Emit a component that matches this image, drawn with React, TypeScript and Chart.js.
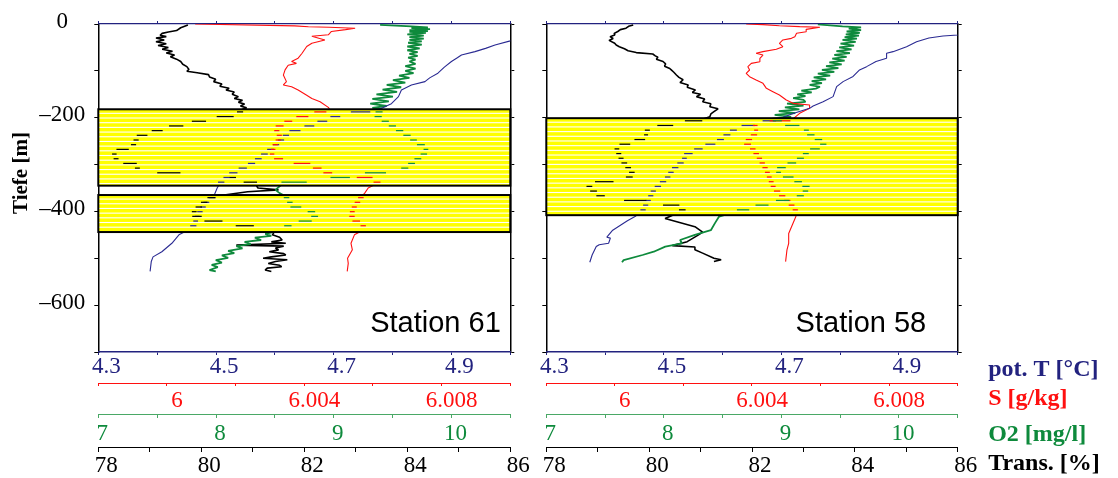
import React, { useEffect, useRef } from 'react';
import { Chart, registerables } from 'chart.js';

Chart.register(...registerables);

// ---------- axis ticks and labels ----------
const DEPTH_TICKS = [-700, -600, -500, -400, -300, -200, -100, 0];
const DEPTH_TICK_LABELS = ['', '–600', '', '–400', '', '–200', '', '0'];
const T_TICKS = [4.3, 4.4, 4.5, 4.6, 4.7, 4.8, 4.9, 5.0];
const T_TICK_LABELS = ['4.3', '', '4.5', '', '4.7', '', '4.9', ''];
const S_TICKS = [5.998, 6.0, 6.002, 6.004, 6.006, 6.008, 6.01];
const S_TICK_LABELS = ['', '6', '', '6.004', '', '6.008', ''];
const O2_TICKS = [7, 7.5, 8, 8.5, 9, 9.5, 10, 10.5];
const O2_TICK_LABELS = ['7', '', '8', '', '9', '', '10', ''];
const TR_TICKS = [78, 79, 80, 81, 82, 83, 84, 85, 86];
const TR_TICK_LABELS = ['78', '', '80', '', '82', '', '84', '', '86'];
const UNIT_LABELS = ['pot. T [°C]', 'S [g/kg]', 'O2 [mg/l]', 'Trans. [%]'];
const DEPTH_TITLE = 'Tiefe [m]';

// ---------- Station 61 ----------
const ST61_T_DEPTH = [-33, -36, -45, -52, -59, -66, -72, -80, -92, -105, -115, -123, -130, -141, -155, -170, -178, -182, -193, -222, -231, -262, -290, -300, -320, -339, -350, -368, -379, -407, -429, -440, -450, -468, -486, -497, -507, -528];
const ST61_T = [5.007, 5.0, 4.974, 4.958, 4.94, 4.917, 4.91, 4.9, 4.888, 4.877, 4.863, 4.855, 4.832, 4.815, 4.81, 4.798, 4.784, 4.776, 4.712, 4.648, 4.624, 4.598, 4.569, 4.557, 4.525, 4.507, 4.502, 4.496, 4.484, 4.469, 4.463, 4.452, 4.437, 4.425, 4.408, 4.393, 4.39, 4.388];

const ST61_S_DEPTH = [0, -4, -6, -7, -9, -12, -16, -23, -26, -34, -41, -48, -63, -73, -80, -84, -88, -98, -109, -123, -130, -134, -141, -152, -159, -166, -178, -182, -203, -222, -241, -262, -281, -290, -300, -310, -320, -322, -330, -339, -350, -361, -368, -379, -389, -407, -418, -429, -438, -450, -468, -482, -500, -511, -528];
const ST61_S = [6.00082, 6.00372, 6.00412, 6.00472, 6.00548, 6.0052, 6.00479, 6.0047, 6.00422, 6.0046, 6.00422, 6.00407, 6.00393, 6.00382, 6.00363, 6.00377, 6.00353, 6.00344, 6.00339, 6.00348, 6.00339, 6.00363, 6.00382, 6.00407, 6.00422, 6.00446, 6.0047, 6.00474, 6.00364, 6.00316, 6.0033, 6.00311, 6.00305, 6.00334, 6.00416, 6.00446, 6.00477, 6.00536, 6.00597, 6.00616, 6.00586, 6.00576, 6.00567, 6.00556, 6.00546, 6.00536, 6.00546, 6.00572, 6.00576, 6.00546, 6.00536, 6.0054, 6.00526, 6.00528, 6.00525];

const ST61_O2_DEPTH = [-2, -5, -7, -9, -11, -13, -15, -17, -19, -22, -25, -28, -31, -34, -37, -40, -44, -48, -52, -56, -60, -64, -68, -72, -76, -80, -85, -90, -95, -100, -105, -110, -115, -120, -125, -130, -135, -140, -145, -150, -155, -160, -165, -170, -175, -179, -182, -193, -222, -241, -252, -262, -272, -281, -300, -310, -320, -330, -339, -354, -361, -368, -389, -398, -407, -418, -429, -439, -448, -452, -456, -461, -465, -470, -474, -479, -484, -489, -494, -499, -504, -509, -514, -519, -525, -528];
const ST61_O2 = [9.394, 9.66, 9.8, 9.66, 9.818, 9.643, 9.8, 9.643, 9.783, 9.625, 9.765, 9.643, 9.765, 9.643, 9.748, 9.632, 9.748, 9.625, 9.73, 9.625, 9.713, 9.643, 9.713, 9.632, 9.695, 9.643, 9.695, 9.608, 9.695, 9.608, 9.678, 9.555, 9.643, 9.503, 9.608, 9.45, 9.573, 9.415, 9.538, 9.363, 9.503, 9.328, 9.468, 9.31, 9.45, 9.328, 9.415, 9.352, 9.527, 9.646, 9.702, 9.776, 9.79, 9.748, 9.646, 9.587, 9.265, 8.974, 8.575, 8.505, 8.54, 8.593, 8.652, 8.796, 8.855, 8.796, 8.607, 8.575, 8.418, 8.47, 8.33, 8.383, 8.243, 8.295, 8.173, 8.225, 8.103, 8.155, 8.05, 8.103, 7.998, 8.05, 7.963, 8.015, 7.945, 7.998];

const ST61_TR_DEPTH = [-2, -8, -14, -17, -20, -24, -27, -30, -34, -38, -42, -46, -50, -54, -58, -62, -66, -70, -75, -80, -86, -91, -97, -101, -104, -108, -113, -118, -123, -128, -133, -137, -141, -145, -150, -155, -159, -163, -167, -171, -175, -179, -182, -193, -203, -213, -222, -231, -240, -262, -272, -281, -291, -300, -310, -320, -322, -330, -339, -350, -354, -358, -368, -376, -398, -407, -418, -429, -440, -450, -455, -461, -465, -468, -472, -474, -478, -482, -486, -490, -493, -497, -500, -503, -507, -511, -515, -518, -521, -525, -528];
const ST61_TR = [79.74, 79.6, 79.52, 79.36, 79.24, 79.2, 79.32, 79.12, 79.28, 79.12, 79.32, 79.16, 79.36, 79.24, 79.44, 79.32, 79.48, 79.4, 79.52, 79.6, 79.64, 79.72, 79.76, 79.72, 79.92, 80.14, 80.16, 80.28, 80.24, 80.4, 80.36, 80.54, 80.48, 80.64, 80.6, 80.72, 80.64, 80.8, 80.72, 80.84, 80.76, 80.88, 80.8, 80.7, 80.14, 79.7, 79.3, 79.03, 78.77, 78.66, 78.3, 78.32, 78.36, 78.73, 78.77, 79.6, 80.56, 80.64, 81.04, 81.1, 81.5, 80.9, 80.23, 80.1, 79.87, 79.84, 80.1, 80.77, 81.44, 81.38, 81.52, 81.57, 81.36, 81.64, 80.68, 81.6, 81.44, 81.5, 81.32, 81.6, 81.64, 81.36, 81.2, 81.67, 81.44, 81.3, 81.52, 81.56, 81.28, 81.24, 81.36];

const ST61_BAND_TOP = [-182, -365];
const ST61_BAND_BOTTOM = [-345, -444];

// ---------- Station 58 ----------
const ST58_T_DEPTH = [-22, -23.5, -25.6, -30, -37.7, -48.4, -59, -62.6, -73, -80, -91, -98, -112, -123, -133.7, -155, -166, -175, -180, -191, -199, -203, -222, -251, -262, -279, -290, -311, -329, -354, -398, -411, -420, -440, -455, -457, -468, -471, -475, -493, -508.5];
const ST58_T = [5.007, 5.0, 4.975, 4.951, 4.93, 4.913, 4.89, 4.879, 4.879, 4.861, 4.845, 4.833, 4.822, 4.805, 4.794, 4.788, 4.771, 4.754, 4.748, 4.72, 4.703, 4.691, 4.623, 4.591, 4.566, 4.537, 4.534, 4.515, 4.505, 4.483, 4.464, 4.451, 4.438, 4.413, 4.403, 4.409, 4.406, 4.39, 4.385, 4.378, 4.374];

const ST58_S_DEPTH = [0, -1.4, -3.6, -5.7, -7, -11.4, -16.4, -19.9, -27, -30.6, -34.1, -41.2, -48.4, -54, -59, -62.6, -66.2, -73.3, -80.4, -84, -91, -98.2, -105.3, -112.4, -119.5, -126.6, -137.3, -144.4, -151.5, -162.2, -169.3, -172.8, -179.9, -190.6, -199.2, -202.7, -213, -222, -232, -253, -262, -283, -311, -340, -350, -379, -397, -411, -447, -468, -482, -507];
const ST58_S = [6.00383, 6.00432, 6.0048, 6.00539, 6.00598, 6.00558, 6.00558, 6.0053, 6.00525, 6.00515, 6.0049, 6.0048, 6.0049, 6.00471, 6.00432, 6.00412, 6.00432, 6.00423, 6.00423, 6.00398, 6.00388, 6.00393, 6.00383, 6.00393, 6.00412, 6.00432, 6.00442, 6.00461, 6.0048, 6.005, 6.0052, 6.00568, 6.00568, 6.00539, 6.00525, 6.0052, 6.00408, 6.00412, 6.00412, 6.00381, 6.00398, 6.00419, 6.00442, 6.00458, 6.00464, 6.00507, 6.00528, 6.00528, 6.00507, 6.00507, 6.00502, 6.00498];

const ST58_O2_DEPTH = [-1, -5, -7, -10, -13, -16, -19, -22, -25, -28, -31, -34, -38, -42, -46, -50, -54, -58, -62, -66, -70, -74, -78, -82, -86, -90, -94, -98, -102, -106, -110, -114, -118, -122, -126, -130, -134, -138, -142, -146, -150, -154, -158, -162, -166, -170, -174, -178, -182, -186, -190, -194, -198, -202, -213, -222, -232, -254, -262, -272, -281, -291, -310, -320, -329, -348, -357, -368, -387, -398, -411, -425, -440, -450, -461, -468, -475, -486, -493, -504, -508.5];
const ST58_O2 = [9.31, 9.52, 9.678, 9.573, 9.678, 9.555, 9.667, 9.548, 9.66, 9.538, 9.643, 9.52, 9.632, 9.503, 9.618, 9.492, 9.597, 9.468, 9.583, 9.45, 9.555, 9.433, 9.538, 9.408, 9.513, 9.38, 9.485, 9.345, 9.45, 9.31, 9.415, 9.275, 9.38, 9.258, 9.345, 9.24, 9.328, 9.293, 9.17, 9.258, 9.135, 9.205, 9.1, 9.188, 9.205, 9.048, 9.188, 9.03, 9.153, 8.978, 9.118, 8.943, 9.083, 8.925, 9.03, 9.205, 9.223, 9.366, 9.331, 9.223, 9.191, 9.135, 8.967, 8.981, 9.093, 9.223, 9.205, 9.156, 8.82, 8.645, 8.47, 8.435, 8.4, 8.264, 8.138, 8.155, 8.012, 7.914, 7.819, 7.658, 7.644];

const ST58_TR_DEPTH = [-2, -5, -9, -12, -16, -20, -23.5, -27, -31, -35, -41, -45, -48.4, -53, -57, -61, -64, -68, -71, -75, -80, -85, -90, -95, -98, -103, -108.8, -114, -119, -125, -130, -135, -140.8, -146, -150, -155, -160, -166, -170, -176.6, -181, -187, -192, -198, -203, -212, -222.7, -232, -242, -262, -272, -290, -310, -320, -329, -340, -348, -368, -377, -387, -398, -415, -432.6, -444, -450, -464.5, -473, -476, -482, -489, -500, -503, -507];
const ST58_TR = [79.69, 79.6, 79.55, 79.44, 79.39, 79.32, 79.33, 79.24, 79.3, 79.22, 79.33, 79.36, 79.42, 79.52, 79.59, 79.75, 80.07, 80.12, 80.17, 80.14, 80.27, 80.32, 80.3, 80.4, 80.43, 80.48, 80.53, 80.58, 80.66, 80.6, 80.76, 80.74, 80.9, 80.84, 81.0, 80.92, 81.08, 81.04, 81.2, 81.18, 81.34, 81.26, 81.2, 81.18, 81.05, 80.53, 79.98, 79.94, 79.94, 79.36, 79.39, 79.47, 79.62, 79.69, 79.58, 78.89, 78.82, 79.06, 79.8, 80.53, 80.67, 80.31, 80.89, 81.04, 80.96, 80.74, 80.45, 80.89, 80.89, 81.04, 81.26, 81.4, 81.26];

const ST58_BAND_TOP = [-201];
const ST58_BAND_BOTTOM = [-408];

// ---------- styling ----------
const SERIF = '"Liberation Serif", "Times New Roman", Times, serif';
const SANS = '"Liberation Sans", Arial, Helvetica, sans-serif';
const NAVY = '#22227f';
const BLUE_LINE = '#2a2a92';
const RED = '#ff1010';
const GREEN = '#0e8a3c';
const GREEN_AXIS = '#4aa866';
const BLACK = '#000000';
const AXIS_IDS = ['xT', 'xS', 'xO', 'xTr'];
const UNIT_COLORS = [NAVY, RED, GREEN, BLACK];
const UNIT_DY = [24, 22, 27, 23];
const TICK_FONT = 23;

type Panel = {
  tD: number[]; t: number[];
  sD: number[]; s: number[];
  oD: number[]; o: number[];
  trD: number[]; tr: number[];
  bandTop: number[]; bandBottom: number[];
  station: string; stationInset: number;
  depthLabels: boolean; units: boolean; tiefe: boolean;
  yWidth: number; padRight: number;
};

const pts = (d: number[], v: number[]) => d.map((y, i) => ({ x: v[i], y }));

function xAxis(ticks: number[], labels: string[], textColor: string, lineColor: string,
  weight: number, height: number, tl: number, pad: number, offset: number) {
  return {
    type: 'linear', position: 'bottom', weight,
    min: ticks[0], max: ticks[ticks.length - 1],
    afterBuildTicks: (s: any) => { s.ticks = ticks.map((v) => ({ value: v })); },
    afterFit: (s: any) => { s.height = height; },
    grid: { drawOnChartArea: false, drawTicks: true, tickLength: tl, color: lineColor, lineWidth: 1 },
    border: { display: true, color: lineColor, width: weight === 0 ? 1.5 : 1 },
    ticks: {
      autoSkip: false, maxRotation: 0, minRotation: 0, padding: pad, labelOffset: offset,
      color: textColor, font: { family: SERIF, size: TICK_FONT, lineHeight: 1 },
      callback: (_v: any, i: number) => labels[i],
    },
  };
}

// x-extent (pixels) of a polyline inside a horizontal strip [ya, yb]
function stripExtent(points: any[], ya: number, yb: number): [number, number] | null {
  let lo = Infinity;
  let hi = -Infinity;
  for (let k = 1; k < points.length; k++) {
    const p0 = points[k - 1];
    const p1 = points[k];
    const top = Math.min(p0.y, p1.y);
    const bot = Math.max(p0.y, p1.y);
    if (bot < ya || top > yb) continue;
    const at = (yy: number) => (p1.y === p0.y ? p0.x : p0.x + ((yy - p0.y) * (p1.x - p0.x)) / (p1.y - p0.y));
    const ys0 = Math.max(top, ya);
    const ys1 = Math.min(bot, yb);
    const xa = p1.y === p0.y ? Math.min(p0.x, p1.x) : at(ys0);
    const xb = p1.y === p0.y ? Math.max(p0.x, p1.x) : at(ys1);
    lo = Math.min(lo, xa, xb);
    hi = Math.max(hi, xa, xb);
  }
  return lo === Infinity ? null : [lo, hi];
}

function buildConfig(p: Panel): any {
  const bands = {
    id: 'bands',
    afterDatasetsDraw(chart: any) {
      const { ctx, chartArea: a } = chart;
      const ys = chart.scales.y;
      const period = Math.abs(ys.getPixelForValue(0) - ys.getPixelForValue(-10));
      p.bandTop.forEach((t, bi) => {
        const y0 = ys.getPixelForValue(t);
        const y1 = ys.getPixelForValue(p.bandBottom[bi]);
        const w = a.right - a.left;
        ctx.save();
        ctx.beginPath();
        ctx.rect(a.left, y0, w, y1 - y0);
        ctx.clip();
        ctx.fillStyle = '#ffff00';
        ctx.fillRect(a.left, y0, w, y1 - y0);
        const stripes: number[] = [];
        for (let y = y0 + 3.5; y < y1 - 2; y += period) stripes.push(y);
        ctx.fillStyle = '#ffffff';
        stripes.forEach((y) => ctx.fillRect(a.left, y, w, 1.1));
        stripes.forEach((y) => {
          const yd = y - 1.5;
          if (yd < y0 + 2) return;
          chart.data.datasets.forEach((ds: any, di: number) => {
            const meta = chart.getDatasetMeta(di);
            const ext = stripExtent(meta.data, y - period * 0.45, y);
            if (!ext) return;
            ctx.fillStyle = ds.borderColor;
            const x0 = Math.max(a.left, ext[0] - 2);
            const x1 = Math.min(a.right, ext[1] + 2);
            if (x1 > x0) ctx.fillRect(x0, yd, x1 - x0, 1.2);
          });
        });
        ctx.restore();
        ctx.save();
        ctx.strokeStyle = '#000';
        ctx.lineWidth = 2;
        ctx.strokeRect(a.left, y0, w, y1 - y0);
        ctx.restore();
      });
    },
  };

  const annot = {
    id: 'annot',
    afterDraw(chart: any) {
      const { ctx, chartArea: a } = chart;
      ctx.save();
      ctx.fillStyle = '#000';
      ctx.font = `29px ${SANS}`;
      ctx.textAlign = 'right';
      ctx.textBaseline = 'alphabetic';
      ctx.fillText(p.station, a.right - p.stationInset, a.bottom - 20.5);
      if (p.units) {
        ctx.textAlign = 'left';
        ctx.font = `bold 24px ${SERIF}`;
        AXIS_IDS.forEach((id, i) => {
          ctx.fillStyle = UNIT_COLORS[i];
          ctx.fillText(UNIT_LABELS[i], a.right + 30.5, chart.scales[id].top + UNIT_DY[i]);
        });
      }
      if (p.tiefe) {
        ctx.translate(21.5, (a.top + a.bottom) / 2 - 15);
        ctx.rotate(-Math.PI / 2);
        ctx.font = `bold 21px ${SERIF}`;
        ctx.textAlign = 'center';
        ctx.textBaseline = 'middle';
        ctx.fillStyle = '#000';
        ctx.fillText(DEPTH_TITLE, 0, 0);
      }
      ctx.restore();
    },
  };

  const line = (data: any[], axis: string, color: string, width: number) => ({
    data, xAxisID: axis, yAxisID: 'y', borderColor: color, backgroundColor: color,
    borderWidth: width, borderJoinStyle: 'bevel', pointRadius: 0, tension: 0, fill: false,
  });

  return {
    type: 'line',
    data: {
      datasets: [
        line(pts(p.tD, p.t), 'xT', BLUE_LINE, 1.1),
        line(pts(p.sD, p.s), 'xS', RED, 1.1),
        line(pts(p.oD, p.o), 'xO', GREEN, 1.8),
        line(pts(p.trD, p.tr), 'xTr', BLACK, 1.6),
      ],
    },
    options: {
      responsive: false,
      animation: false,
      events: [],
      layout: { padding: { left: 0, right: p.padRight, top: 20, bottom: 0 } },
      plugins: { legend: { display: false }, tooltip: { enabled: false }, title: { display: false } },
      elements: { point: { radius: 0 } },
      scales: {
        y: {
          type: 'linear', position: 'left', min: -700, max: 0,
          afterBuildTicks: (s: any) => { s.ticks = DEPTH_TICKS.map((v) => ({ value: v })); },
          afterFit: (s: any) => { s.width = p.yWidth; },
          grid: { drawOnChartArea: false, drawTicks: true, tickLength: 4, color: '#000' },
          border: { display: true, color: '#000', width: 1.5 },
          ticks: {
            display: p.depthLabels, autoSkip: false, crossAlign: 'center', padding: 9, labelOffset: -2.5,
            color: '#000', font: { family: SERIF, size: TICK_FONT, lineHeight: 1 },
            callback: (_v: any, i: number) => DEPTH_TICK_LABELS[i],
          },
        },
        y2: {
          type: 'linear', position: 'right', min: -700, max: 0,
          afterBuildTicks: (s: any) => { s.ticks = DEPTH_TICKS.map((v) => ({ value: v })); },
          afterFit: (s: any) => { s.width = 5; },
          grid: { drawOnChartArea: false, drawTicks: true, tickLength: 4, color: '#000' },
          border: { display: true, color: '#000', width: 1.5 },
          ticks: { display: false },
        },
        xTop: {
          type: 'linear', position: 'top', min: 4.3, max: 5.0,
          afterBuildTicks: (s: any) => { s.ticks = T_TICKS.map((v) => ({ value: v })); },
          afterFit: (s: any) => { s.height = 4; },
          grid: { drawOnChartArea: false, drawTicks: true, tickLength: 3, color: NAVY },
          border: { display: true, color: NAVY, width: 1.2 },
          ticks: { display: false },
        },
        xT: xAxis(T_TICKS, T_TICK_LABELS, NAVY, NAVY, 0, 31, 3, 0, 8),
        xS: xAxis(S_TICKS, S_TICK_LABELS, RED, RED, 1, 31, 3, 3, 10),
        xO: xAxis(O2_TICKS, O2_TICK_LABELS, GREEN, GREEN_AXIS, 2, 33, 4, 4, 4),
        xTr: xAxis(TR_TICKS, TR_TICK_LABELS, BLACK, BLACK, 3, 31, 5, 2, 8),
      },
    },
    plugins: [bands, annot],
  };
}

const P61: Panel = {
  tD: ST61_T_DEPTH, t: ST61_T, sD: ST61_S_DEPTH, s: ST61_S,
  oD: ST61_O2_DEPTH, o: ST61_O2, trD: ST61_TR_DEPTH, tr: ST61_TR,
  bandTop: ST61_BAND_TOP, bandBottom: ST61_BAND_BOTTOM,
  station: 'Station 61', stationInset: 9.5,
  depthLabels: true, units: false, tiefe: true,
  yWidth: 98.3, padRight: 18.7,
};

const P58: Panel = {
  tD: ST58_T_DEPTH, t: ST58_T, sD: ST58_S_DEPTH, s: ST58_S,
  oD: ST58_O2_DEPTH, o: ST58_O2, trD: ST58_TR_DEPTH, tr: ST58_TR,
  bandTop: ST58_BAND_TOP, bandBottom: ST58_BAND_BOTTOM,
  station: 'Station 58', stationInset: 31.5,
  depthLabels: false, units: true, tiefe: false,
  yWidth: 20.3, padRight: 155.3,
};

function PanelChart({ panel, left, width }: { panel: Panel; left: number; width: number }) {
  const ref = useRef<HTMLCanvasElement>(null);
  useEffect(() => {
    const chart = new Chart(ref.current as HTMLCanvasElement, buildConfig(panel));
    return () => chart.destroy();
  }, [panel]);
  return (
    <canvas
      ref={ref}
      width={width}
      height={478}
      style={{ position: 'absolute', left, top: 0, width, height: 478 }}
    />
  );
}

export default function App() {
  return (
    <div style={{ position: 'absolute', left: 0, top: 0, width: 1118, height: 478, background: '#ffffff', overflow: 'hidden' }}>
      <PanelChart panel={P61} left={0} width={534} />
      <PanelChart panel={P58} left={526} width={592} />
    </div>
  );
}
